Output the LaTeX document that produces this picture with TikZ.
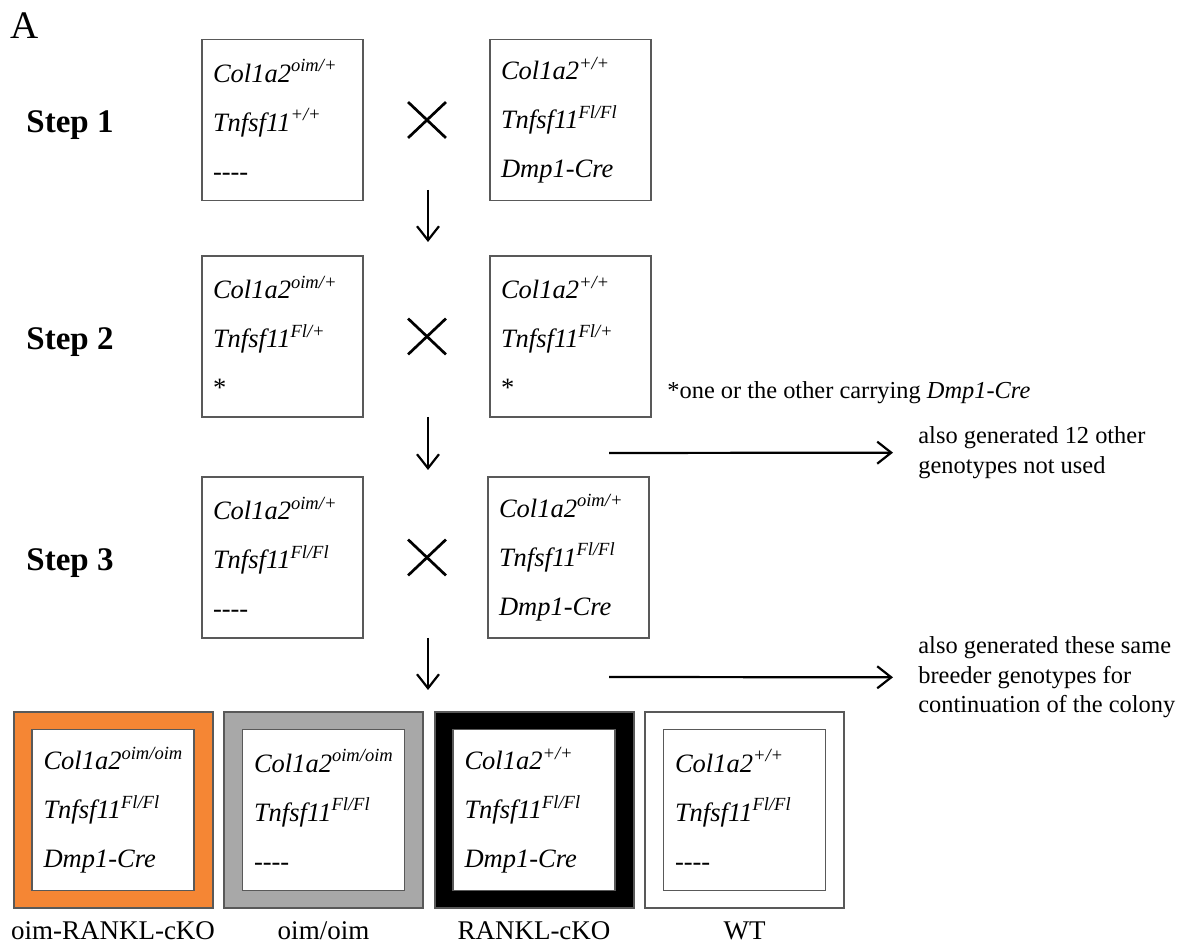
\documentclass[tikz,border=0pt]{standalone}
\usepackage{fontspec}
\setmainfont{Liberation Serif}
\usetikzlibrary{arrows.meta,positioning}
\definecolor{boxline}{HTML}{595959}
\definecolor{okorange}{HTML}{F58634}
\definecolor{okgray}{HTML}{A8A8A8}
\newcommand{\geno}[2]{\textit{#1}\textsuperscript{\textit{#2}}}
\newcommand{\nocre}{-{}-{}-{}-}
\begin{document}
\begin{tikzpicture}[x=0.5pt,y=-0.5pt,font=\fontsize{13.25}{24.5}\selectfont,
mouse/.style={draw=boxline,line width=.85pt,fill=white,minimum width=80.5pt,minimum height=80.5pt,text width=69.5pt,inner xsep=5.5pt,inner ysep=0pt,align=left},
steplab/.style={font=\fontsize{16.5}{18}\selectfont\bfseries,inner sep=0pt,anchor=base},
cross/.style={minimum width=18.5pt,minimum height=17.5pt,inner sep=0pt},
crossline/.style={line width=1.35pt},
arr/.style={-{Straight Barb[length=7pt,width=11pt]},line width=1.1pt},
side/.style={font=\fontsize{12.2}{14.75}\selectfont,align=left,anchor=west,inner sep=0pt},
pupframe/.style={draw=boxline,line width=1pt,fill=#1,minimum width=99.5pt,minimum height=98pt,inner sep=0pt},
pupname/.style={font=\fontsize{13.5}{16}\selectfont,inner sep=0pt}]
\useasboundingbox (0,0) rectangle (1179,945);
\node[font=\fontsize{19.5}{22}\selectfont,anchor=north west,inner sep=0pt] (panel) at (10,12) {A};
% step 1
\node[steplab] (s1) at (70,133) {Step 1};
\node[mouse] (p1a) at (282.5,120) {\geno{Col1a2}{oim/+}\\\geno{Tnfsf11}{+/+}\\\nocre};
\node[cross] (cr1) at (427,120) {};
\draw[crossline] (cr1.north west)--(cr1.south east) (cr1.south west)--(cr1.north east);
\node[mouse] (p1b) at (570.5,120) {\geno{Col1a2}{+/+}\\\geno{Tnfsf11}{Fl/Fl}\\\textit{Dmp1-Cre}};
% step 2
\node[steplab] (s2) at (70,349.5) {Step 2};
\node[mouse] (p2a) at (282.5,336.5) {\geno{Col1a2}{oim/+}\\\geno{Tnfsf11}{Fl/+}\\{*}};
\node[cross] (cr2) at (427,336.5) {};
\draw[crossline] (cr2.north west)--(cr2.south east) (cr2.south west)--(cr2.north east);
\node[mouse] (p2b) at (570.5,336.5) {\geno{Col1a2}{+/+}\\\geno{Tnfsf11}{Fl/+}\\{*}};
\node[side] (star) at (667,393) {*one or the other carrying \textit{Dmp1-Cre}};
% step 3
\node[steplab] (s3) at (70,570.5) {Step 3};
\node[mouse] (p3a) at (282.5,557.5) {\geno{Col1a2}{oim/+}\\\geno{Tnfsf11}{Fl/Fl}\\\nocre};
\node[cross] (cr3) at (427,557.5) {};
\draw[crossline] (cr3.north west)--(cr3.south east) (cr3.south west)--(cr3.north east);
\node[mouse] (p3b) at (568.5,557.5) {\geno{Col1a2}{oim/+}\\\geno{Tnfsf11}{Fl/Fl}\\\textit{Dmp1-Cre}};
% arrows between steps
\coordinate (d1a) at (428,190); \coordinate (d1b) at (428,242);
\coordinate (d2a) at (428,417); \coordinate (d2b) at (428,470);
\coordinate (d3a) at (428,638); \coordinate (d3b) at (428,690);
\draw[arr] (d1a)--(d1b);
\draw[arr] (d2a)--(d2b);
\draw[arr] (d3a)--(d3b);
\node[side] (gen1) at (918,452.5) {also generated 12 other\\genotypes not used};
\node[side] (gen2) at (918,677.5) {also generated these same\\breeder genotypes for\\continuation of the colony};
\coordinate (h1) at (609,453); \coordinate (h2) at (609,677);
\draw[arr,shorten >=12.5pt] (h1)--(gen1);
\draw[arr,shorten >=12.5pt] (h2)--(gen2);
% offspring
\node[pupframe=okorange] (okoc) at (113,810) {};
\node[mouse,minimum width=81pt] (okoc-in) at (okoc) {\geno{Col1a2}{oim/oim}\\\geno{Tnfsf11}{Fl/Fl}\\\textit{Dmp1-Cre}};
\node[pupname,below=6pt of okoc] (okoc-lab) {oim-RANKL-cKO};
\node[pupframe=okgray] (oim) at (323.5,810) {};
\node[mouse,minimum width=81pt] (oim-in) at (oim) {\geno{Col1a2}{oim/oim}\\\geno{Tnfsf11}{Fl/Fl}\\\nocre};
\node[pupname,below=6pt of oim] (oim-lab) {oim/oim};
\node[pupframe=black] (cko) at (534,810) {};
\node[mouse,minimum width=81pt] (cko-in) at (cko) {\geno{Col1a2}{+/+}\\\geno{Tnfsf11}{Fl/Fl}\\\textit{Dmp1-Cre}};
\node[pupname,below=6pt of cko] (cko-lab) {RANKL-cKO};
\node[pupframe=white] (wt) at (744.5,810) {};
\node[mouse,minimum width=81pt] (wt-in) at (wt) {\geno{Col1a2}{+/+}\\\geno{Tnfsf11}{Fl/Fl}\\\nocre};
\node[pupname,below=6pt of wt] (wt-lab) {WT};
\end{tikzpicture}
\end{document}
